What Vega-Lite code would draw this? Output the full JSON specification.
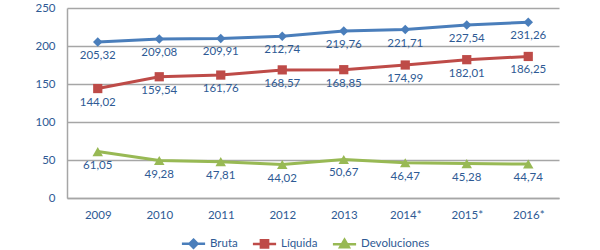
{
  "$schema": "https://vega.github.io/schema/vega-lite/v6.json",
  "width": 492,
  "height": 190,
  "autosize": {"type": "none"},
  "padding": {"left": 67, "top": 8, "right": 41, "bottom": 52},
  "config": {
    "locale": {"number": {"decimal": ",", "thousands": ".", "grouping": [3], "currency": ["", ""]}},
    "view": {"stroke": null},
    "font": "Lato"
  },
  "data": {
    "values": [
      {"year": "2009", "series": "Bruta", "value": 205.32},
      {"year": "2010", "series": "Bruta", "value": 209.08},
      {"year": "2011", "series": "Bruta", "value": 209.91},
      {"year": "2012", "series": "Bruta", "value": 212.74},
      {"year": "2013", "series": "Bruta", "value": 219.76},
      {"year": "2014*", "series": "Bruta", "value": 221.71},
      {"year": "2015*", "series": "Bruta", "value": 227.54},
      {"year": "2016*", "series": "Bruta", "value": 231.26},
      {"year": "2009", "series": "Líquida", "value": 144.02},
      {"year": "2010", "series": "Líquida", "value": 159.54},
      {"year": "2011", "series": "Líquida", "value": 161.76},
      {"year": "2012", "series": "Líquida", "value": 168.57},
      {"year": "2013", "series": "Líquida", "value": 168.85},
      {"year": "2014*", "series": "Líquida", "value": 174.99},
      {"year": "2015*", "series": "Líquida", "value": 182.01},
      {"year": "2016*", "series": "Líquida", "value": 186.25},
      {"year": "2009", "series": "Devoluciones", "value": 61.05},
      {"year": "2010", "series": "Devoluciones", "value": 49.28},
      {"year": "2011", "series": "Devoluciones", "value": 47.81},
      {"year": "2012", "series": "Devoluciones", "value": 44.02},
      {"year": "2013", "series": "Devoluciones", "value": 50.67},
      {"year": "2014*", "series": "Devoluciones", "value": 46.47},
      {"year": "2015*", "series": "Devoluciones", "value": 45.28},
      {"year": "2016*", "series": "Devoluciones", "value": 44.74}
    ]
  },
  "encoding": {
    "x": {
      "field": "year", "type": "ordinal", "sort": null,
      "scale": {"type": "point", "padding": 0.5},
      "axis": {"title": null, "labelAngle": 0, "ticks": false, "domainColor": "#A6A6A6", "domainWidth": 1.5, "labelPadding": 11, "labelFontSize": 11.5, "labelColor": "#2E5A94", "grid": false}
    },
    "y": {
      "field": "value", "type": "quantitative",
      "scale": {"domain": [0, 250], "nice": false},
      "axis": {"title": null, "values": [0, 50, 100, 150, 200, 250], "ticks": false, "domainColor": "#A6A6A6", "domainWidth": 1.5, "gridColor": "#A6A6A6", "gridWidth": 1.3, "labelPadding": 12, "labelFontSize": 11.5, "labelColor": "#2E5A94"}
    },
    "color": {
      "field": "series", "type": "nominal",
      "scale": {"domain": ["Bruta", "Líquida", "Devoluciones"], "range": ["#4A7EBB", "#BE4B48", "#98B954"]},
      "legend": {
        "orient": "none", "legendX": 117, "legendY": 226, "direction": "horizontal",
        "title": null, "symbolSize": 256, "labelOffset": 7, "columnPadding": 9,
        "labelFontSize": 11.5, "labelColor": "#2E5A94",
        "encode": {
          "symbols": {
            "update": {
              "shape": {"signal": "datum.value === 'Bruta' ? 'M-1.45,0H1.45M0,-0.5L0.5,0L0,0.5L-0.5,0Z' : datum.value === 'Devoluciones' ? 'M-1.45,0H1.45M0,-0.55L0.55,0.4H-0.55Z' : 'M-1.45,0H1.45M-0.45,-0.45H0.45V0.45H-0.45Z'"},
              "fill": {"scale": "color", "field": "value"},
              "stroke": {"scale": "color", "field": "value"},
              "strokeWidth": {"value": 2.5},
              "strokeOpacity": {"value": 1},
              "fillOpacity": {"value": 1},
              "opacity": {"value": 1}
            }
          }
        }
      }
    }
  },
  "layer": [
    {"mark": {"type": "line", "strokeWidth": 3}},
    {
      "transform": [{"filter": "datum.series === 'Bruta'"}],
      "mark": {"type": "point", "filled": true, "size": 90, "opacity": 1, "shape": "diamond"}
    },
    {
      "transform": [{"filter": "datum.series === 'Líquida'"}],
      "mark": {"type": "point", "filled": true, "size": 85, "opacity": 1, "shape": "square"}
    },
    {
      "transform": [{"filter": "datum.series === 'Devoluciones'"}],
      "mark": {"type": "point", "filled": true, "size": 110, "opacity": 1, "shape": "triangle-up"}
    },
    {
      "mark": {"type": "text", "dy": 14, "fontSize": 11.5, "baseline": "middle"},
      "encoding": {
        "text": {"field": "value", "type": "quantitative", "format": ".2f"},
        "color": {"value": "#2E5A94"}
      }
    }
  ]
}
